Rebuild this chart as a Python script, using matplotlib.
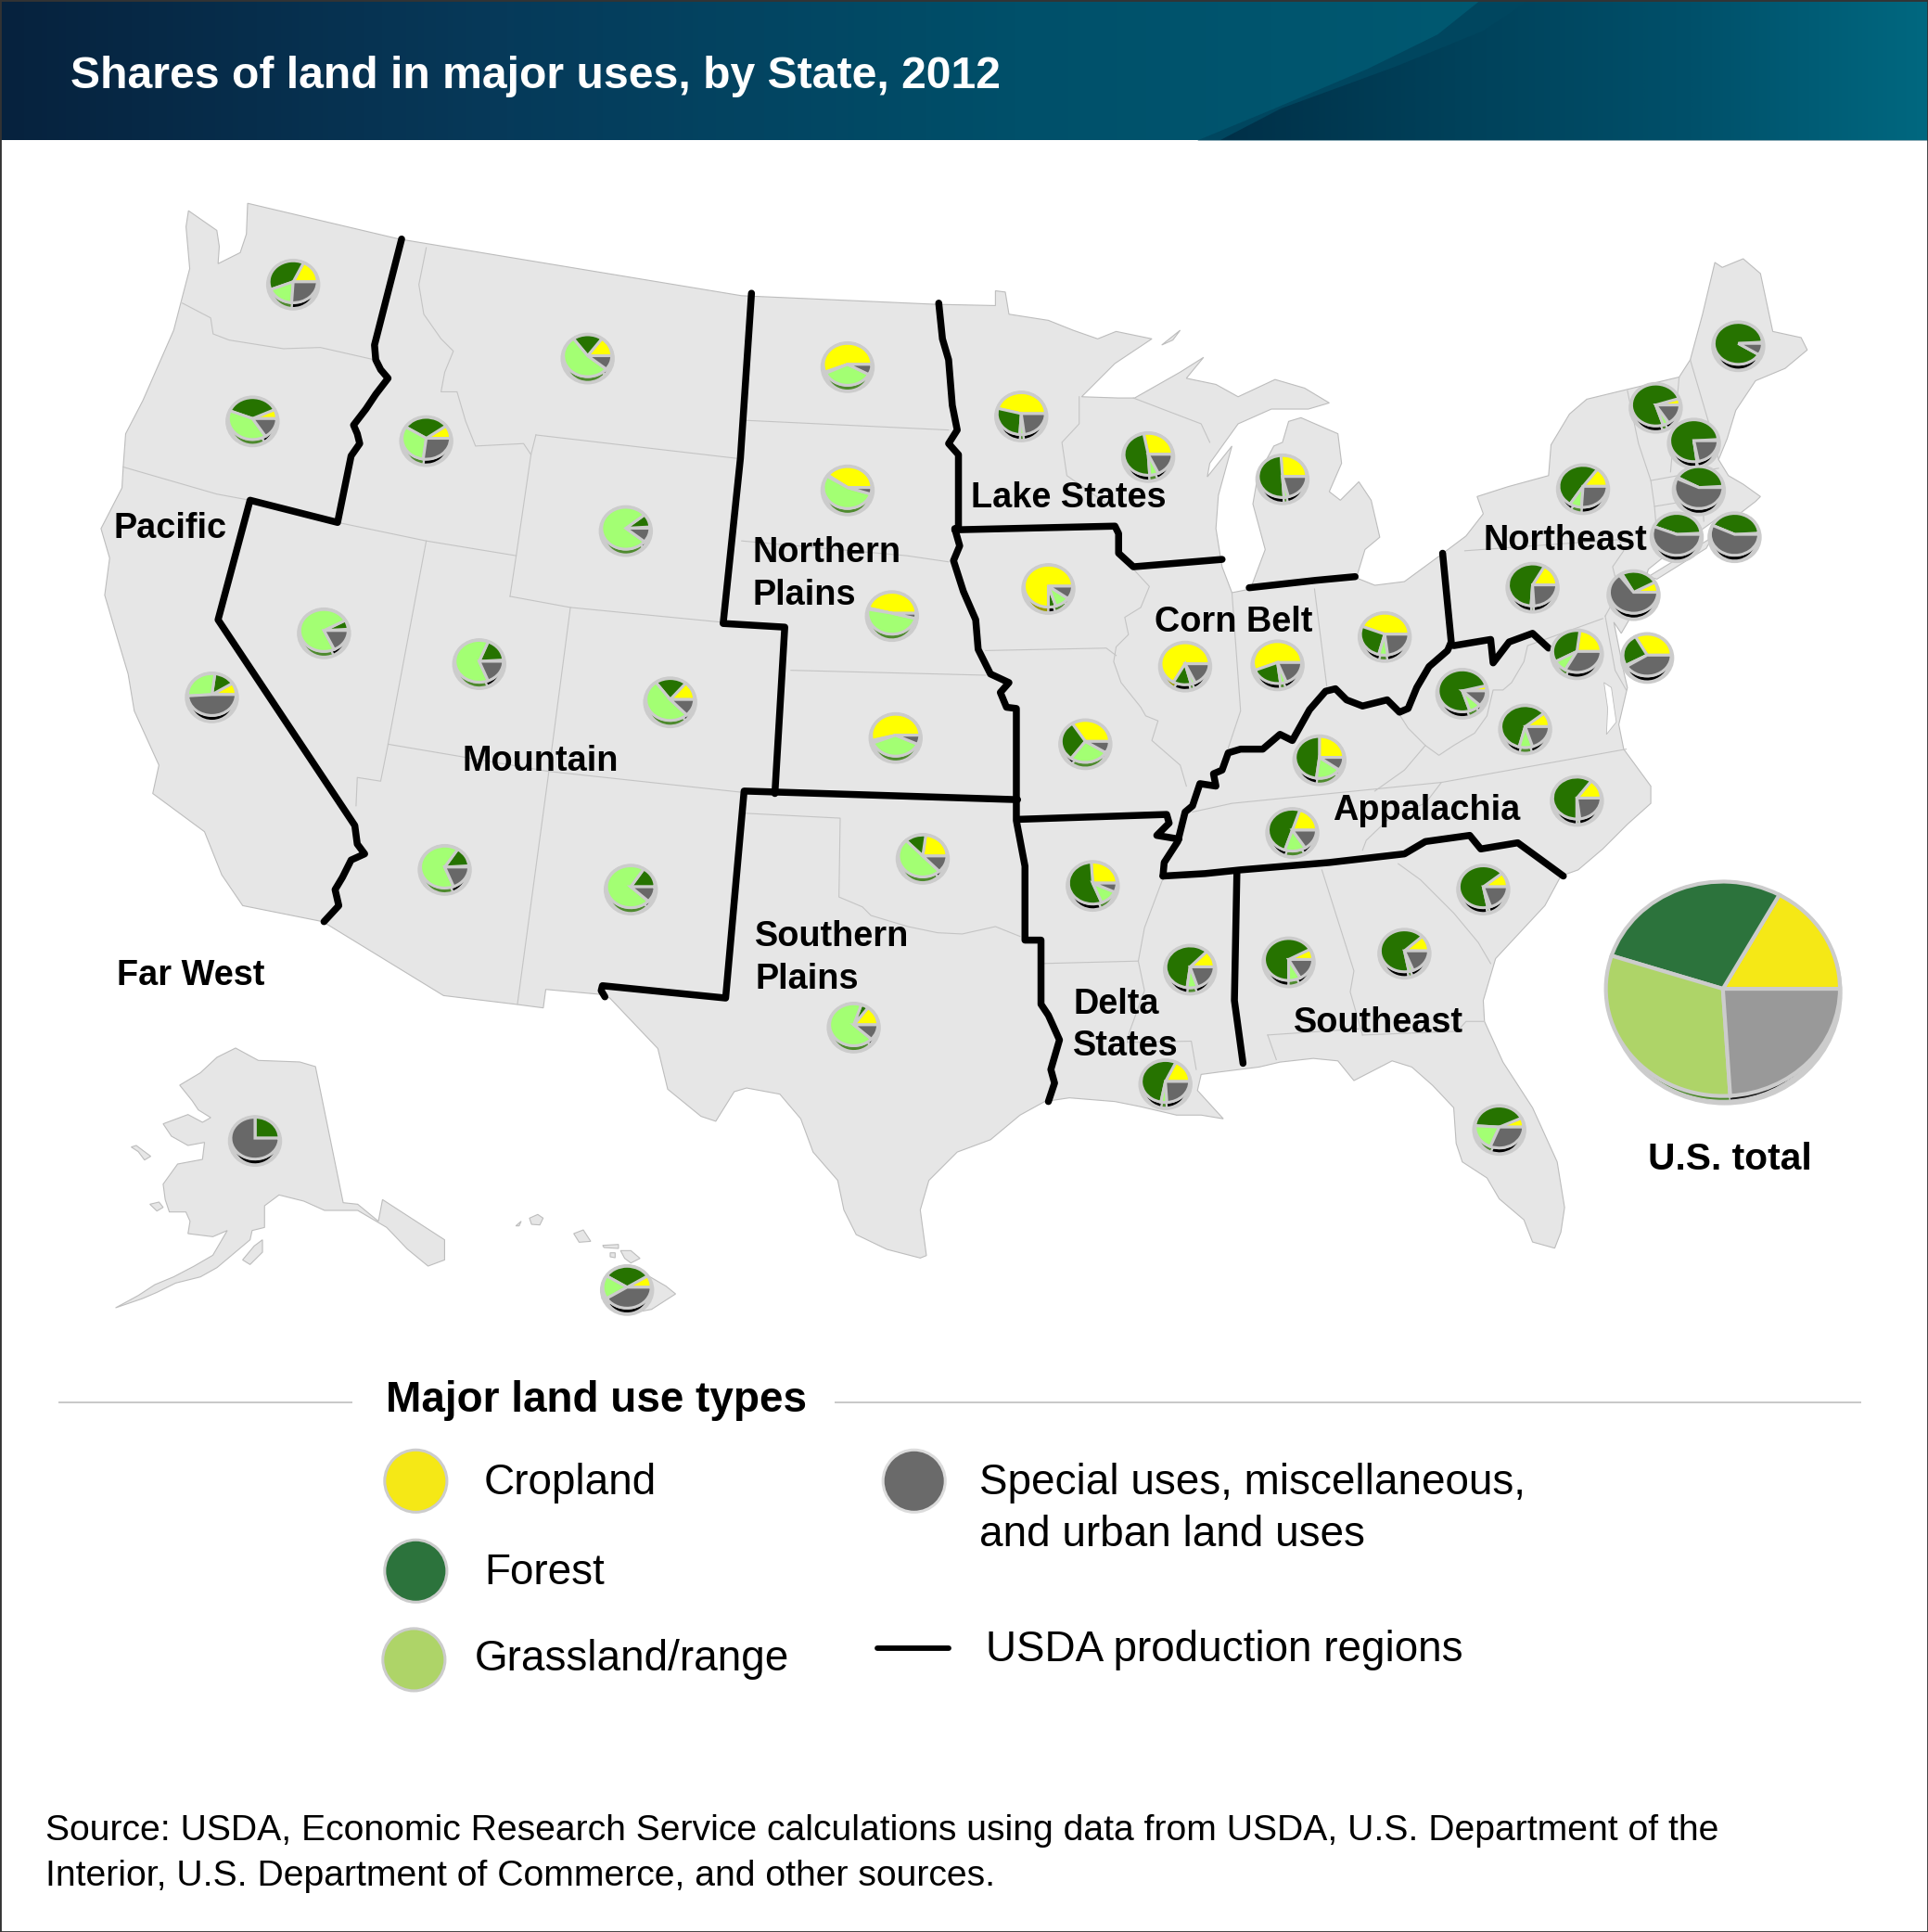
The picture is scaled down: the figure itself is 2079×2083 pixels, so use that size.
import numpy as np
import matplotlib
matplotlib.use("Agg")
import matplotlib.pyplot as plt
from matplotlib.colors import LinearSegmentedColormap
from matplotlib.patches import Ellipse, Polygon, Rectangle, PathPatch
from matplotlib.path import Path
from matplotlib.transforms import Affine2D

plt.rcParams['font.family'] = ['Liberation Sans', 'DejaVu Sans']

# shares of land: cropland, forest, grassland/range, special uses
states = ["WA", "OR", "CA", "ID", "NV", "MT", "WY", "UT", "CO", "AZ", "NM", "ND", "SD", "NE", "KS", "OK", "TX",
          "MN", "WI", "MI", "IA", "MO", "IL", "IN", "OH", "KY", "TN", "VA", "WV", "NC", "SC", "GA", "AL", "MS",
          "AR", "LA", "FL", "NY", "PA", "ME", "VT", "NH", "MA", "CT", "RI", "NJ", "DE", "MD", "AK", "HI"]
cropland = [18, 7, 9, 10, 1, 15, 1, 1, 14, 1, 0, 56, 40, 46, 54, 23, 15,
            46, 28, 26, 75, 34, 67, 56, 44, 25, 20, 11, 4, 15, 11, 12, 8, 13,
            26, 18, 7, 15, 17, 1, 5, 1, 1, 1, 1, 8, 33, 23, 0, 9]
forest = [38, 37, 14, 31, 7, 20, 10, 18, 21, 15, 16, 1, 1, 1, 2, 14, 5,
          28, 48, 50, 5, 31, 12, 21, 27, 48, 50, 60, 76, 60, 67, 66, 67, 60,
          55, 54, 42, 51, 57, 90, 75, 76, 41, 43, 42, 25, 25, 35, 25, 32]
grassland = [18, 40, 28, 32, 74, 54, 78, 62, 52, 65, 72, 35, 54, 49, 37, 50, 68,
             3, 6, 3, 10, 26, 3, 4, 6, 17, 14, 9, 8, 2, 2, 3, 8, 7,
             12, 4, 20, 8, 2, 0, 4, 1, 1, 0, 0, 2, 1, 9, 0, 18]
special = [26, 16, 49, 27, 18, 11, 11, 19, 13, 19, 12, 8, 5, 4, 7, 13, 12,
           23, 18, 21, 10, 9, 18, 19, 23, 10, 16, 20, 12, 23, 20, 19, 17, 20,
           7, 24, 31, 26, 24, 9, 16, 22, 57, 56, 57, 65, 41, 33, 75, 41]
us_shares = [17, 28, 31, 24]

# where each State's pie sits on the map
pie_x = [238, 205, 172, 346, 263, 477, 508, 389, 544, 361, 512, 688, 688, 724, 727, 749, 693,
         829, 932, 1041, 851, 881, 962, 1037, 1124, 1071, 1049, 1238, 1187, 1280, 1204, 1140, 1046, 966,
         887, 946, 1217, 1285, 1244, 1411, 1344, 1375, 1379, 1361, 1408, 1326, 1337, 1280, 207, 509]
pie_y = [231, 342, 566, 358, 514, 291, 431, 539, 570, 706, 722, 298, 398, 500, 599, 697, 834,
         338, 371, 389, 478, 604, 541, 540, 517, 617, 676, 592, 563, 650, 722, 774, 781, 787,
         719, 880, 917, 397, 477, 281, 331, 360, 398, 436, 436, 483, 534, 531, 926, 1047]

legend_names = ["Cropland", "Forest", "Grassland/range"]

# outlines, in picture units (1565 x 1568)
conus = [(153, 171), (176, 187), (178, 200), (177, 214), (195, 205), (200, 190), (201, 165), (324, 194), (602, 240),
         (760, 247), (808, 248), (808, 236), (816, 237), (819, 255), (851, 260), (871, 268), (891, 275), (906, 269),
         (935, 275), (905, 295), (878, 322), (908, 323), (921, 323), (958, 302), (977, 290), (963, 307), (987, 312),
         (1005, 322), (1035, 308), (1059, 315), (1079, 327), (1062, 332), (1032, 332), (1005, 344), (982, 376),
         (980, 387), (1000, 362), (989, 402), (987, 429), (992, 460), (1000, 481), (1015, 478), (1027, 446),
         (1017, 409), (1021, 386), (1034, 362), (1041, 359), (1046, 342), (1056, 339), (1086, 352), (1089, 376),
         (1079, 399), (1088, 406), (1103, 391), (1113, 406), (1120, 436), (1108, 446), (1101, 469), (1116, 475),
         (1140, 472), (1170, 450), (1190, 435), (1204, 417), (1199, 403), (1224, 395), (1257, 386), (1259, 361),
         (1274, 336), (1288, 324), (1321, 316), (1363, 306), (1372, 292), (1382, 255), (1392, 213), (1398, 217),
         (1415, 210), (1429, 222), (1439, 269), (1462, 274), (1467, 284), (1449, 299), (1425, 309), (1409, 333),
         (1402, 356), (1395, 373), (1403, 386), (1415, 393), (1429, 403), (1425, 407), (1412, 417), (1395, 420),
         (1348, 454), (1338, 462), (1330, 490), (1316, 514), (1310, 505), (1318, 545), (1321, 558), (1314, 588),
         (1318, 608), (1340, 638), (1340, 652), (1321, 669), (1301, 689), (1281, 706), (1267, 711), (1254, 735),
         (1214, 778), (1204, 812), (1205, 829), (1220, 862), (1244, 899), (1264, 943), (1270, 980), (1267, 1000),
         (1262, 1013), (1244, 1008), (1237, 990), (1217, 973), (1207, 956), (1187, 943), (1182, 928), (1180, 899),
         (1163, 881), (1146, 866), (1130, 861), (1099, 877), (1086, 861), (1066, 859), (1039, 862), (1022, 866),
         (990, 870), (975, 872), (972, 885), (993, 908), (975, 905), (955, 905), (925, 898), (905, 894), (868, 891),
         (848, 894), (828, 905), (804, 925), (777, 935), (754, 958), (747, 982), (752, 1019), (747, 1021), (720, 1014),
         (695, 1002), (685, 982), (680, 958), (660, 935), (650, 908), (633, 888), (606, 883), (596, 886), (581, 910),
         (569, 906), (542, 884), (534, 851), (495, 810), (487, 807), (443, 803), (441, 818), (418, 815), (360, 808),
         (262, 748), (197, 735), (180, 710), (166, 675), (124, 644), (129, 621), (109, 577), (104, 547), (95, 517),
         (85, 483), (89, 453), (82, 429), (99, 396), (100, 379), (102, 352), (116, 325), (141, 268), (148, 241),
         (154, 218), (151, 184)]
long_island = [(1338, 468), (1390, 436), (1385, 445), (1345, 470)]
isle_royale = [(943, 280), (958, 268), (952, 276)]
chesapeake = [(1302, 554), (1308, 558), (1312, 586), (1304, 596), (1305, 575)]
# Alaska and Hawaii, traced in crop units
alaska = [(345, 90), (400, 130), (500, 135), (538, 150), (605, 590), (640, 595), (690, 650), (700, 580), (850, 710),
          (850, 775), (810, 795), (760, 740), (710, 670), (640, 615), (560, 615), (510, 585), (450, 565), (415, 600),
          (415, 670), (385, 680), (380, 710), (300, 800), (260, 830), (200, 850), (155, 880), (120, 900), (55, 930),
          (110, 890), (150, 855), (195, 830), (245, 795), (290, 760), (325, 680), (290, 700), (230, 690), (235, 650),
          (225, 620), (185, 620), (175, 580), (170, 530), (205, 465), (265, 450), (270, 395), (230, 405), (190, 375),
          (170, 335), (230, 305), (265, 330), (285, 315), (255, 290), (240, 260), (210, 210), (260, 170), (300, 120)]
islands = [[(93, 410), (105, 405), (140, 440), (125, 452), (110, 425)],
           [(138, 595), (160, 588), (170, 605), (155, 617)],
           [(362, 775), (390, 730), (410, 710), (410, 750), (380, 790)],
           [(1340, 825), (1385, 860), (1408, 885), (1350, 935), (1290, 950), (1230, 900), (1240, 830), (1300, 810)],
           [(1275, 745), (1300, 745), (1322, 770), (1300, 785), (1285, 770)],
           [(1232, 728), (1270, 725), (1270, 738), (1235, 735)],
           [(1250, 752), (1262, 752), (1262, 768), (1250, 765)],
           [(1162, 690), (1185, 678), (1203, 715), (1175, 718)],
           [(1055, 640), (1075, 628), (1088, 640), (1080, 662), (1060, 660)],
           [(1022, 665), (1035, 650), (1030, 665)]]

state_lines = [
    [(148, 246), (171, 258), (173, 271), (186, 276), (230, 283), (260, 282), (304, 292)],
    [(346, 201), (340, 231), (344, 255), (358, 275), (368, 285), (361, 302), (358, 318), (371, 318), (378, 342),
     (386, 362), (425, 360), (431, 369)],
    [(100, 379), (176, 401), (203, 406), (274, 424), (346, 439), (419, 451)],
    [(435, 353), (431, 369), (419, 451), (414, 484)],
    [(435, 353), (598, 372)],
    [(414, 484), (463, 493), (586, 505)],
    [(346, 439), (315, 604), (309, 634), (290, 631), (289, 654)],
    [(315, 604), (445, 626), (602, 643)],
    [(463, 493), (445, 630), (420, 815)],
    [(602, 341), (770, 349)],
    [(602, 439), (736, 451), (770, 456)],
    [(642, 544), (800, 548)],
    [(604, 660), (682, 664), (681, 728), (700, 736), (707, 743), (737, 752), (761, 757), (781, 758), (808, 752), (828, 760)],
    [(846, 782), (924, 780)],
    [(944, 713), (929, 753), (924, 780), (929, 804), (917, 837), (915, 846), (967, 845), (971, 868)],
    [(876, 322), (876, 344), (862, 359), (866, 386), (903, 412)],
    [(800, 528), (898, 526), (906, 532)],
    [(921, 463), (933, 476), (926, 493), (913, 501), (916, 515), (906, 525), (904, 537), (910, 554), (926, 574),
     (930, 581), (940, 585), (935, 601), (958, 621), (963, 638)],
    [(1000, 481), (1007, 577), (997, 607)],
    [(1067, 478), (1077, 557)],
    [(920, 323), (975, 344), (982, 359)],
    [(1189, 447), (1314, 438), (1318, 447), (1309, 460), (1314, 480), (1303, 500)],
    [(1301, 502), (1240, 524), (1237, 537), (1227, 554), (1220, 560), (1212, 560), (1207, 581), (1197, 595), (1180, 605),
     (1168, 613), (1157, 605), (1143, 591), (1136, 580)],
    [(1157, 605), (1140, 625), (1116, 642)],
    [(1303, 500), (1311, 544), (1320, 560)],
    [(1320, 608), (1170, 635), (1000, 652), (968, 659)],
    [(1170, 635), (1157, 652), (1130, 662), (1109, 682), (1106, 690)],
    [(1135, 701), (1153, 714), (1180, 741), (1200, 765), (1210, 782)],
    [(1073, 706), (1099, 788), (1096, 805), (1106, 840)],
    [(1106, 840), (1183, 837), (1190, 829), (1204, 829)],
    [(1029, 840), (1103, 835)],
    [(1029, 840), (1036, 860)],
    [(1321, 317), (1330, 360), (1340, 390), (1343, 411), (1346, 447)],
    [(1363, 306), (1356, 383)],
    [(1372, 292), (1387, 343), (1395, 373)],
    [(1340, 390), (1395, 380)],
    [(1343, 411), (1392, 403)],
    [(1382, 406), (1383, 423)],
]

region_lines = [
    [(326, 194), (304, 280), (305, 292), (309, 300), (315, 307), (305, 320), (297, 332), (287, 345), (290, 352),
     (292, 360), (285, 370), (274, 424), (203, 406), (177, 503), (288, 670), (290, 685), (296, 693), (285, 698),
     (278, 712), (272, 722), (275, 735), (263, 748)],
    [(610, 238), (601, 372), (587, 506), (637, 509), (629, 644)],
    [(826, 649), (604, 642), (589, 810), (489, 800), (488, 804), (491, 809)],
    [(825, 649), (825, 666), (832, 703), (832, 763), (845, 763), (845, 815), (851, 824), (860, 844), (853, 868),
     (856, 879), (851, 894)],
    [(825, 649), (825, 575), (817, 574), (812, 562), (819, 554), (804, 547), (794, 527), (792, 503), (782, 480),
     (774, 455), (779, 443), (775, 429), (778, 429), (778, 369), (770, 360), (777, 349), (773, 329), (770, 292),
     (765, 275), (762, 246)],
    [(775, 430), (905, 427), (908, 433), (908, 449), (920, 460), (992, 454)],
    [(1014, 477), (1068, 471), (1100, 468)],
    [(826, 665), (947, 661), (949, 668), (939, 678), (957, 681)],
    [(1171, 449), (1178, 521), (1175, 528), (1160, 541), (1150, 558), (1143, 575), (1136, 578), (1126, 568), (1106, 573),
     (1093, 568), (1084, 559), (1076, 561), (1063, 576), (1049, 601), (1039, 596), (1025, 608), (1007, 608), (997, 611),
     (992, 625), (985, 628), (987, 638), (974, 636), (968, 654), (962, 659), (956, 683), (945, 700), (944, 711)],
    [(1180, 524), (1210, 519), (1212, 538), (1225, 521), (1244, 514), (1257, 526)],
    [(944, 711), (978, 709), (1007, 706), (1079, 700), (1140, 693), (1157, 683), (1193, 678), (1202, 689), (1232, 684),
     (1269, 711)],
    [(1004, 709), (1002, 812), (1009, 863)],
]

swoosh_a = [(972, 114), (1030, 90), (1110, 56), (1167, 28), (1202, 0), (1565, 0), (1565, 114)]
swoosh_b = [(990, 114), (1040, 88), (1133, 54), (1204, 25), (1242, 0), (1565, 0), (1565, 114)]

RING = "#cccccc"
LAND = "#e6e6e6"
PIE_TOP = ["#ffff00", "#267300", "#a3ff73", "#686868"]
PIE_SIDE = ["#9a9a00", "#000000", "#4e8a2e", "#000000"]
US_TOP = ["#f5e816", "#2c733c", "#aed468", "#999999"]
US_SIDE = ["#9a9a00", "#000000", "#4e8a2e", "#1a1a1a"]
LEGEND_COLORS = ["#f5e816", "#2c733c", "#aed468"]


def draw_pie(ax, shares, cx, cy, rx, ry, colors, lw, z):
    # the map's pies are flattened a little, so squash ax.pie's circle
    wedges, _ = ax.pie(shares, colors=colors, center=(cx, cy), radius=rx, startangle=0, counterclock=False,
                       frame=True, wedgeprops=dict(edgecolor=RING, linewidth=lw, zorder=z))
    squash = Affine2D().translate(-cx, -cy).scale(1, ry / rx).translate(cx, cy)
    for w in wedges:
        w.set_transform(squash + ax.transData)


def pie_3d(ax, shares, cx, cy, top, side, z):
    ax.add_patch(Ellipse((cx, cy), 44, 42, fc=RING, ec="none", zorder=z))
    draw_pie(ax, shares, cx, cy + 2, 18, 17, side, 1.6, z + 0.1)
    ax.add_patch(Ellipse((cx, cy - 2.3), 41, 36, fc=RING, ec="none", zorder=z + 0.2))
    draw_pie(ax, shares, cx, cy - 2.3, 19.6, 17, top, 2.2, z + 0.3)


fig = plt.figure(figsize=(20.79, 20.83), dpi=100)
ax = fig.add_axes([0, 0, 1, 1])
ax.axis("off")

# header band
base = LinearSegmentedColormap.from_list("base", ["#06223e", "#063a5a", "#00506a", "#005a72"])
ax.imshow(np.linspace(0, 1, 512)[None, :], extent=(0, 1240, 114, 0), aspect="auto", cmap=base, zorder=0)
band = Polygon(swoosh_a, fc="#00465f", ec="none", zorder=0.2)
ax.add_patch(band)
right = LinearSegmentedColormap.from_list("right", ["#003048", "#00415a", "#00506a", "#006880"])
img = ax.imshow(np.linspace(0, 1, 512)[None, :], extent=(990, 1565, 114, 0), aspect="auto", cmap=right, zorder=0.3)
img.set_clip_path(PathPatch(Path(swoosh_b + [swoosh_b[0]]), transform=ax.transData))
ax.text(57, 62, "Shares of land in major uses, by State, 2012", color="white", fontsize=34.7, fontweight="bold",
        ha="left", va="center", zorder=6)

# map
map_style = dict(fc=LAND, ec="#bdbdbd", lw=0.8, zorder=1)
ax.add_patch(Polygon(conus, **map_style))
ax.add_patch(Polygon(long_island, **map_style))
ax.add_patch(Polygon(isle_royale, **map_style))
ax.add_patch(Polygon(chesapeake, fc="white", ec="#bdbdbd", lw=0.6, zorder=1.1))
crop_to_map = lambda pts: np.array(pts) * [0.336, 0.251] + [75.3, 828]
ax.add_patch(Polygon(crop_to_map(alaska), **map_style))
for isl in islands:
    ax.add_patch(Polygon(crop_to_map(isl), **map_style))
for seg in state_lines:
    xy = np.array(seg)
    ax.plot(xy[:, 0], xy[:, 1], color="#c4c4c4", lw=0.8, zorder=1.5)
for seg in region_lines:
    xy = np.array(seg)
    ax.plot(xy[:, 0], xy[:, 1], color="black", lw=5.4, solid_capstyle="round", solid_joinstyle="round", zorder=3)

# one pie per State
for i in range(len(states)):
    shares = [cropland[i], forest[i], grassland[i], special[i]]
    pie_3d(ax, shares, pie_x[i], pie_y[i], PIE_TOP, PIE_SIDE, 4)

# U.S. total pie
ax.add_patch(Ellipse((1400, 806), 191, 182, fc=RING, ec="none", zorder=4))
draw_pie(ax, us_shares, 1398.5, 807, 91, 86, US_SIDE, 0.8, 4.1)
ax.add_patch(Ellipse((1398.5, 802.5), 190, 175, fc=RING, ec="none", zorder=4.2))
draw_pie(ax, us_shares, 1398.5, 802.5, 95, 87, US_TOP, 3, 4.3)

region_labels = [("Pacific", 92, 429), ("Far West", 95, 792), ("Mountain", 375, 618), ("Northern", 611, 449),
                 ("Plains", 611, 483), ("Lake States", 788, 404), ("Corn Belt", 937, 505), ("Northeast", 1204, 439),
                 ("Appalachia", 1082, 658), ("Southern", 613, 760), ("Plains", 613, 795), ("Delta", 871, 815),
                 ("States", 871, 849), ("Southeast", 1050, 830)]
for name, x, y in region_labels:
    ax.text(x, y, name, fontsize=27.3, fontweight="bold", ha="left", va="center", zorder=6)
ax.text(1338, 941, "U.S. total", fontsize=29.3, fontweight="bold", ha="left", va="center", zorder=6)

# legend
ax.plot([48, 285], [1138, 1138], color="#c8c8c8", lw=1.4)
ax.plot([678, 1510], [1138, 1138], color="#c8c8c8", lw=1.4)
ax.text(313, 1137, "Major land use types", fontsize=33, fontweight="bold", ha="left", va="center")
legend_xy = [(337.5, 1202), (337.5, 1275), (336, 1347)]
text_x = [393, 393, 385]
text_y = [1204, 1277, 1347]
for name, col, (x, y), tx, ty in zip(legend_names, LEGEND_COLORS, legend_xy, text_x, text_y):
    ax.add_patch(Ellipse((x, y), 50.5, 50.5, fc=col, ec=RING, lw=2.2, zorder=2))
    ax.text(tx, ty, name, fontsize=33, ha="left", va="center")
ax.add_patch(Ellipse((742, 1202), 50.5, 50.5, fc="#6a6a6a", ec="#dcdcdc", lw=2.2, zorder=2))
ax.text(795, 1204, "Special uses, miscellaneous,", fontsize=33, ha="left", va="center")
ax.text(795, 1246, "and urban land uses", fontsize=33, ha="left", va="center")
ax.plot([712, 770], [1338, 1338], color="black", lw=4.2, solid_capstyle="round")
ax.text(800, 1339, "USDA production regions", fontsize=33, ha="left", va="center")

ax.text(37, 1486, "Source: USDA, Economic Research Service calculations using data from USDA, U.S. Department of the",
        fontsize=28.2, ha="left", va="center")
ax.text(37, 1523, "Interior, U.S. Department of Commerce, and other sources.", fontsize=28.2, ha="left", va="center")

ax.add_patch(Rectangle((0, 0), 1565, 1568, fc="none", ec="#333333", lw=2, zorder=7))

ax.set_aspect("auto")
ax.set_xlim(0, 1565)
ax.set_ylim(1568, 0)
fig.savefig("out.png", dpi=100)
